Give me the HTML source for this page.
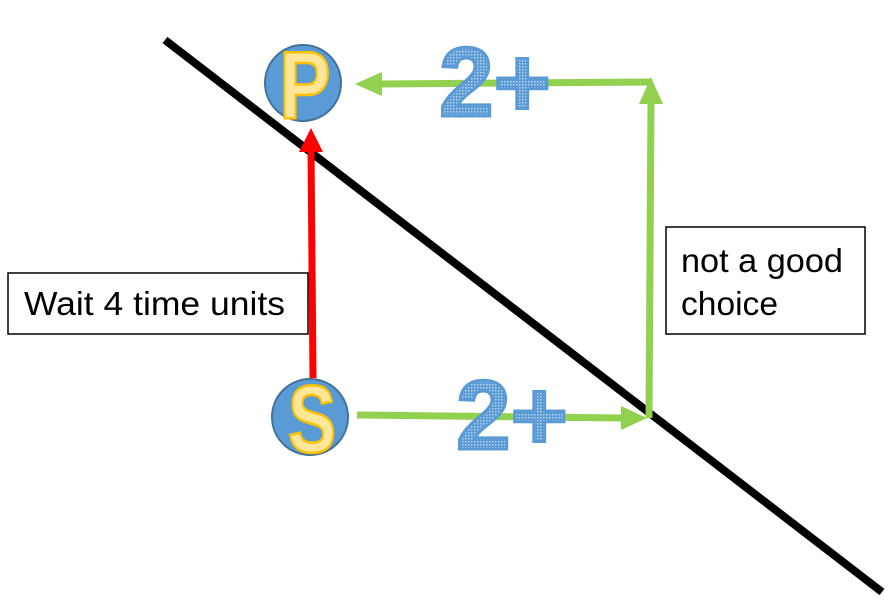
<!DOCTYPE html>
<html><head><meta charset="utf-8"><style>
html,body{margin:0;padding:0;background:#fff;width:888px;height:601px;overflow:hidden}
svg{display:block}
text{font-family:"Liberation Sans",sans-serif}
</style></head><body>
<svg width="888" height="601" viewBox="0 0 888 601">
<defs>
<pattern id="dots" width="3" height="3" patternUnits="userSpaceOnUse">
<rect width="3" height="3" fill="#5b9bd5"/><rect width="1.5" height="1.5" fill="#b8d3ee"/>
</pattern>
</defs>
<line x1="165" y1="40" x2="882" y2="592" stroke="#000" stroke-width="8"/>
<g>
<line x1="313" y1="378" x2="311" y2="150" stroke="#ff0000" stroke-width="7"/>
<polygon points="311,128 299,152 323,152" fill="#ff0000"/>
</g>
<g>
<line x1="652" y1="82" x2="380" y2="84" stroke="#92d050" stroke-width="7"/>
<polygon points="355,84 382,72 382,96" fill="#92d050"/>
</g>
<g>
<line x1="649" y1="418" x2="651" y2="100" stroke="#92d050" stroke-width="7"/>
<polygon points="651,77 639,104 663,104" fill="#92d050"/>
</g>
<g>
<line x1="357" y1="415" x2="622" y2="418" stroke="#92d050" stroke-width="7"/>
<polygon points="647,418 621,406 621,430" fill="#92d050"/>
</g>
<g>
<circle cx="303" cy="83" r="38" fill="#5b9bd5" stroke="#41719c" stroke-width="2"/>
<text transform="translate(305,118) scale(0.8,1)" x="0" y="0" text-anchor="middle" font-size="96" font-weight="bold" fill="#ffe699" stroke="#ffc000" stroke-width="2.5">P</text>
</g>
<g>
<circle cx="310" cy="417" r="38" fill="#5b9bd5" stroke="#41719c" stroke-width="2"/>
<text transform="translate(312,452) scale(0.75,1)" x="0" y="0" text-anchor="middle" font-size="96" font-weight="bold" fill="#ffe699" stroke="#ffc000" stroke-width="2.5">S</text>
</g>
<text x="495" y="116" text-anchor="middle" font-size="98" font-weight="bold" fill="url(#dots)" stroke="#5b9bd5" stroke-width="3">2+</text>
<text x="512" y="449" text-anchor="middle" font-size="98" font-weight="bold" fill="url(#dots)" stroke="#5b9bd5" stroke-width="3">2+</text>
<g>
<rect x="8" y="273" width="300" height="61" fill="#fff" stroke="#000" stroke-width="1.5"/>
<text x="24" y="315" font-size="33" fill="#000" textLength="261" lengthAdjust="spacingAndGlyphs">Wait 4 time units</text>
</g>
<g>
<rect x="666" y="227" width="199" height="107" fill="#fff" stroke="#000" stroke-width="1.5"/>
<text x="681" y="272" font-size="33" fill="#000" textLength="162" lengthAdjust="spacingAndGlyphs">not a good</text>
<text x="681" y="315" font-size="33" fill="#000" textLength="97" lengthAdjust="spacingAndGlyphs">choice</text>
</g>
</svg>
</body></html>
